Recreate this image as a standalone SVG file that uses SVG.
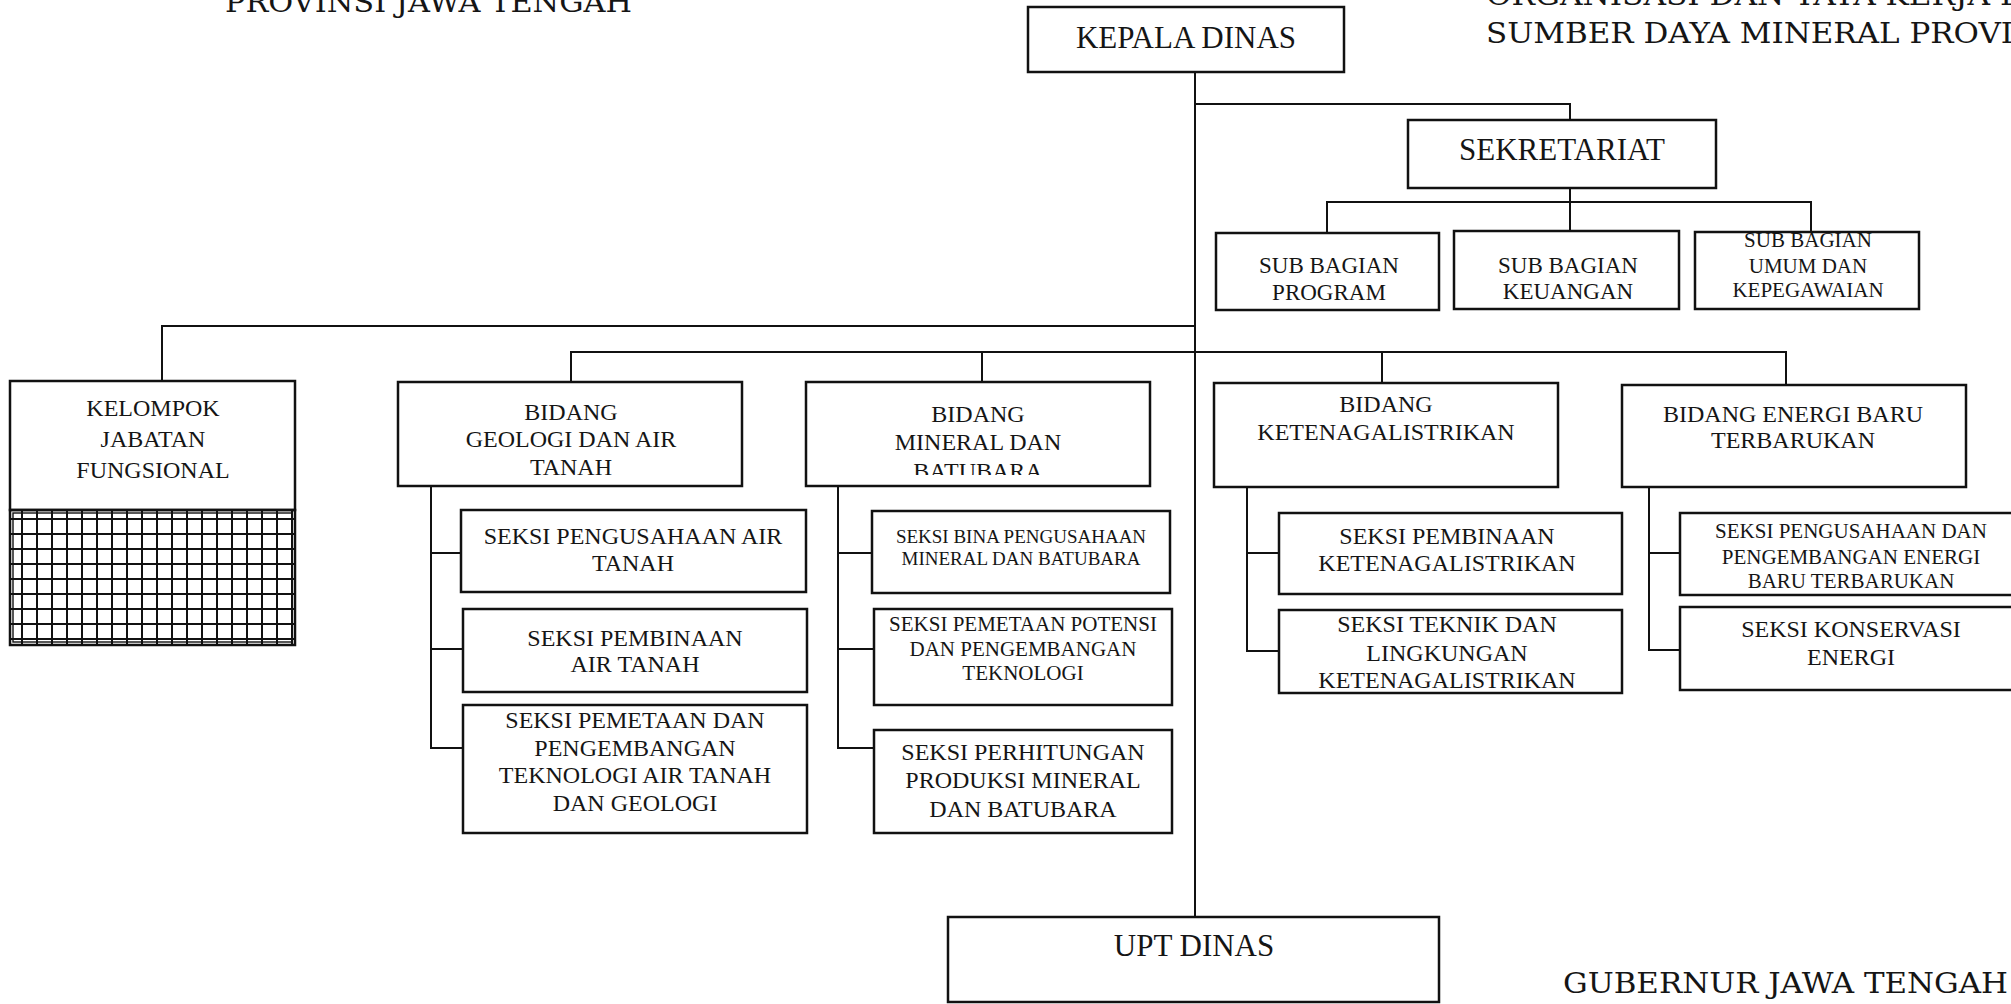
<svg xmlns="http://www.w3.org/2000/svg" width="2011" height="1004" viewBox="0 0 2011 1004">
<style>
.box{fill:#fff;stroke:#111;stroke-width:2.5}
.conn{fill:none;stroke:#111;stroke-width:2}
.t{font-family:"Liberation Serif","Times New Roman",serif;text-anchor:middle;fill:#151515}
.f31{font-size:31px}.f24{font-size:24px}.f23{font-size:23px}.f21{font-size:21px}.f19{font-size:19px}
.title{font-family:"DejaVu Serif","Liberation Serif",serif;font-size:28px;fill:#151515}
</style>
<defs>
<pattern id="grid" patternUnits="userSpaceOnUse" x="21" y="518" width="15" height="15">
<path d="M1 0V15M0 1H15" stroke="#111" stroke-width="2" fill="none"/>
</pattern>
<clipPath id="clipMineral"><rect x="806" y="382" width="344" height="93"/></clipPath>
</defs>
<rect width="2011" height="1004" fill="#fff"/>

<g id="titles">
<text class="title" x="225" y="12" textLength="407" lengthAdjust="spacingAndGlyphs">PROVINSI JAWA TENGAH</text>
<text class="title" x="1486" y="5" textLength="539" lengthAdjust="spacingAndGlyphs">ORGANISASI DAN TATA KERJA D</text>
<text class="title" x="1486" y="43" textLength="527" lengthAdjust="spacingAndGlyphs">SUMBER DAYA MINERAL PROVI</text>
<text class="title" x="1563" y="993" textLength="445" lengthAdjust="spacingAndGlyphs">GUBERNUR JAWA TENGAH</text>
</g>

<g id="connectors">
<path class="conn" d="M1195 72V917"/>
<path class="conn" d="M1195 104H1570V120"/>
<path class="conn" d="M1570 188V231"/>
<path class="conn" d="M1327 233V202H1811V232"/>
<path class="conn" d="M162 381V326H1195"/>
<path class="conn" d="M571 382V352H1786V385"/>
<path class="conn" d="M982 352V382"/>
<path class="conn" d="M1382 352V383"/>
<path class="conn" d="M431 486V748H463M431 553H461M431 649H463"/>
<path class="conn" d="M838 486V748H874M838 553H872M838 649H874"/>
<path class="conn" d="M1247 487V651H1279M1247 553H1279"/>
<path class="conn" d="M1649 487V650H1680M1649 553H1680"/>
</g>

<g id="kepala-dinas">
<rect class="box" x="1028" y="7" width="316" height="65"/>
<text class="t f31" x="1186" y="48">KEPALA DINAS</text>
</g>

<g id="sekretariat">
<rect class="box" x="1408" y="120" width="308" height="68"/>
<text class="t f31" x="1562" y="160">SEKRETARIAT</text>
</g>

<g id="sub-bagian-program">
<rect class="box" x="1216" y="233" width="223" height="77"/>
<text class="t f23" x="1329" y="273">SUB BAGIAN</text>
<text class="t f23" x="1329" y="300">PROGRAM</text>
</g>

<g id="sub-bagian-keuangan">
<rect class="box" x="1454" y="231" width="225" height="78"/>
<text class="t f23" x="1568" y="273">SUB BAGIAN</text>
<text class="t f23" x="1568" y="299">KEUANGAN</text>
</g>

<g id="sub-bagian-umum">
<rect class="box" x="1695" y="232" width="224" height="77"/>
<text class="t f21" x="1808" y="247">SUB BAGIAN</text>
<text class="t f21" x="1808" y="273">UMUM DAN</text>
<text class="t f21" x="1808" y="297">KEPEGAWAIAN</text>
</g>

<g id="kelompok-jabatan-fungsional">
<rect class="box" x="10" y="381" width="285" height="129"/>
<rect x="10" y="510" width="285" height="135" fill="url(#grid)" stroke="#111" stroke-width="2.5"/>
<rect x="13" y="513" width="279" height="129" fill="none" stroke="#111" stroke-width="1.4"/>
<text class="t f24" x="153" y="416">KELOMPOK</text>
<text class="t f24" x="153" y="447">JABATAN</text>
<text class="t f24" x="153" y="478">FUNGSIONAL</text>
</g>

<g id="bidang-geologi">
<rect class="box" x="398" y="382" width="344" height="104"/>
<text class="t f24" x="571" y="420">BIDANG</text>
<text class="t f24" x="571" y="447">GEOLOGI DAN AIR</text>
<text class="t f24" x="571" y="475">TANAH</text>
</g>

<g id="bidang-mineral">
<rect class="box" x="806" y="382" width="344" height="104"/>
<text class="t f24" x="978" y="422">BIDANG</text>
<text class="t f24" x="978" y="450">MINERAL DAN</text>
<text class="t f24" x="978" y="479" clip-path="url(#clipMineral)">BATUBARA</text>
</g>

<g id="bidang-ketenagalistrikan">
<rect class="box" x="1214" y="383" width="344" height="104"/>
<text class="t f24" x="1386" y="412">BIDANG</text>
<text class="t f24" x="1386" y="440">KETENAGALISTRIKAN</text>
</g>

<g id="bidang-energi">
<rect class="box" x="1622" y="385" width="344" height="102"/>
<text class="t f24" x="1793" y="422">BIDANG ENERGI BARU</text>
<text class="t f24" x="1793" y="448">TERBARUKAN</text>
</g>

<g id="seksi-pengusahaan-air-tanah">
<rect class="box" x="461" y="510" width="345" height="82"/>
<text class="t f24" x="633" y="544">SEKSI PENGUSAHAAN AIR</text>
<text class="t f24" x="633" y="571">TANAH</text>
</g>

<g id="seksi-pembinaan-air-tanah">
<rect class="box" x="463" y="609" width="344" height="83"/>
<text class="t f24" x="635" y="646">SEKSI PEMBINAAN</text>
<text class="t f24" x="635" y="672">AIR TANAH</text>
</g>

<g id="seksi-pemetaan-air-tanah">
<rect class="box" x="463" y="705" width="344" height="128"/>
<text class="t f24" x="635" y="728">SEKSI PEMETAAN DAN</text>
<text class="t f24" x="635" y="756">PENGEMBANGAN</text>
<text class="t f24" x="635" y="783">TEKNOLOGI AIR TANAH</text>
<text class="t f24" x="635" y="811">DAN GEOLOGI</text>
</g>

<g id="seksi-bina-pengusahaan">
<rect class="box" x="872" y="511" width="298" height="82"/>
<text class="t f19" x="1021" y="543">SEKSI BINA PENGUSAHAAN</text>
<text class="t f19" x="1021" y="565">MINERAL DAN BATUBARA</text>
</g>

<g id="seksi-pemetaan-potensi">
<rect class="box" x="874" y="609" width="298" height="96"/>
<text class="t f21" x="1023" y="631">SEKSI PEMETAAN POTENSI</text>
<text class="t f21" x="1023" y="656">DAN PENGEMBANGAN</text>
<text class="t f21" x="1023" y="680">TEKNOLOGI</text>
</g>

<g id="seksi-perhitungan-produksi">
<rect class="box" x="874" y="730" width="298" height="103"/>
<text class="t f24" x="1023" y="760">SEKSI PERHITUNGAN</text>
<text class="t f24" x="1023" y="788">PRODUKSI MINERAL</text>
<text class="t f24" x="1023" y="817">DAN BATUBARA</text>
</g>

<g id="seksi-pembinaan-ketenagalistrikan">
<rect class="box" x="1279" y="513" width="343" height="81"/>
<text class="t f24" x="1447" y="544">SEKSI PEMBINAAN</text>
<text class="t f24" x="1447" y="571">KETENAGALISTRIKAN</text>
</g>

<g id="seksi-teknik-lingkungan">
<rect class="box" x="1279" y="610" width="343" height="83"/>
<text class="t f24" x="1447" y="632">SEKSI TEKNIK DAN</text>
<text class="t f24" x="1447" y="661">LINGKUNGAN</text>
<text class="t f24" x="1447" y="688">KETENAGALISTRIKAN</text>
</g>

<g id="seksi-pengusahaan-ebt">
<rect class="box" x="1680" y="513" width="345" height="82"/>
<text class="t f21" x="1851" y="538">SEKSI PENGUSAHAAN DAN</text>
<text class="t f21" x="1851" y="564">PENGEMBANGAN ENERGI</text>
<text class="t f21" x="1851" y="588">BARU TERBARUKAN</text>
</g>

<g id="seksi-konservasi-energi">
<rect class="box" x="1680" y="607" width="345" height="83"/>
<text class="t f24" x="1851" y="637">SEKSI KONSERVASI</text>
<text class="t f24" x="1851" y="665">ENERGI</text>
</g>

<g id="upt-dinas">
<rect class="box" x="948" y="917" width="491" height="85"/>
<text class="t f31" x="1194" y="956">UPT DINAS</text>
</g>
</svg>
